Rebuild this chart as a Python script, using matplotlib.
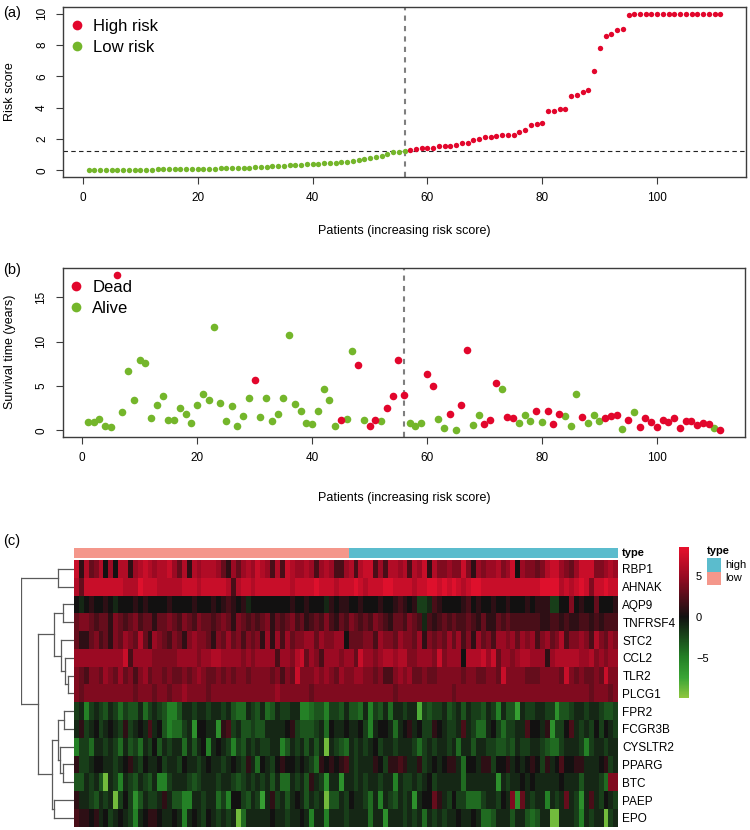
import numpy as np
import matplotlib
matplotlib.use('Agg')
import matplotlib.pyplot as plt
from matplotlib.colors import LinearSegmentedColormap, ListedColormap, Normalize
from matplotlib.lines import Line2D
from matplotlib.patches import Rectangle
from matplotlib.cm import ScalarMappable

plt.rcParams['font.family'] = ['Liberation Sans', 'DejaVu Sans']

# risk scores, sorted (patients 1..56 low risk, 57..111 high risk)
risk_low = [0.00, 0.01, 0.01, 0.02, 0.02, 0.03, 0.03, 0.03, 0.04, 0.04,
            0.05, 0.05, 0.06, 0.06, 0.07, 0.07, 0.08, 0.08, 0.09, 0.09,
            0.10, 0.11, 0.12, 0.13, 0.14, 0.15, 0.16, 0.17, 0.18, 0.20,
            0.23, 0.25, 0.27, 0.29, 0.31, 0.33, 0.35, 0.37, 0.39, 0.41,
            0.43, 0.45, 0.47, 0.49, 0.51, 0.53, 0.58, 0.66, 0.72, 0.77,
            0.83, 0.92, 1.02, 1.16, 1.18, 1.21]
risk_high = [1.33, 1.37, 1.41, 1.43, 1.43, 1.54, 1.56, 1.58, 1.61, 1.73,
             1.76, 1.91, 1.99, 2.14, 2.16, 2.18, 2.23, 2.27, 2.29, 2.46,
             2.59, 2.91, 2.98, 3.04, 3.77, 3.81, 3.92, 3.94, 4.75, 4.82,
             4.97, 5.12, 6.32, 7.79, 8.57, 8.67, 8.95, 9.04, 9.94, 10.0,
             10.0, 10.0, 10.0, 10.0, 10.0, 10.0, 10.0, 10.0, 10.0, 10.0,
             10.0, 10.0, 10.0, 10.0, 10.0]
risk_cutoff = 1.21

# survival time (years) and status, same patient order
survival_years = [0.94, 0.94, 1.28, 0.45, 0.38, 17.56, 2.07, 6.69, 3.46, 7.93,
                  7.59, 1.43, 2.89, 3.91, 1.13, 1.20, 2.48, 1.80, 0.83, 2.86,
                  4.10, 3.38, 11.62, 3.05, 1.02, 2.74, 0.53, 1.65, 3.68, 5.64,
                  1.50, 3.61, 1.09, 1.84, 3.61, 10.75, 3.01, 2.18, 0.79, 0.75,
                  2.18, 4.66, 3.38, 0.53, 1.20, 1.32, 8.95, 7.41, 1.17, 0.49,
                  1.20, 1.05, 2.56, 3.83, 7.93, 3.98, 0.79, 0.49, 0.79, 6.35,
                  5.04, 1.32, 0.26, 1.88, 0.08, 2.86, 9.06, 0.60, 1.69, 0.75,
                  1.17, 5.38, 4.62, 1.50, 1.43, 0.86, 1.69, 1.09, 2.14, 0.94,
                  2.22, 0.75, 1.84, 1.62, 0.49, 4.14, 1.54, 0.79, 1.69, 1.02,
                  1.35, 1.58, 1.77, 0.19, 1.17, 2.07, 0.41, 1.35, 0.90, 0.34,
                  1.13, 0.94, 1.43, 0.23, 1.09, 1.02, 0.56, 0.83, 0.71, 0.26,
                  0.00]
# 1 = dead, 0 = alive
status = [0, 0, 0, 0, 0, 1, 0, 0, 0, 0,
          0, 0, 0, 0, 0, 0, 0, 0, 0, 0,
          0, 0, 0, 0, 0, 0, 0, 0, 0, 1,
          0, 0, 0, 0, 0, 0, 0, 0, 0, 0,
          0, 0, 0, 0, 1, 0, 0, 1, 0, 1,
          1, 0, 1, 1, 1, 1, 0, 0, 0, 1,
          1, 0, 0, 1, 0, 1, 1, 0, 0, 1,
          1, 1, 0, 1, 1, 0, 0, 0, 1, 0,
          1, 1, 1, 0, 0, 0, 1, 0, 0, 0,
          1, 1, 1, 0, 1, 0, 1, 1, 1, 1,
          1, 1, 1, 1, 1, 1, 1, 1, 1, 0,
          1]

# heatmap genes (dendrogram order) and expression per patient
genes = ['RBP1', 'AHNAK', 'AQP9', 'TNFRSF4', 'STC2', 'CCL2', 'TLR2', 'PLCG1',
         'FPR2', 'FCGR3B', 'CYSLTR2', 'PPARG', 'BTC', 'PAEP', 'EPO']
expr_RBP1 = [7,1,6,3,4,6,0,5,0,6,6,1,5,6,7,6,5,6,6,7,5,3,6,1,6,5,6,6,6,5,3,1,5,3,5,6,5,
             7,6,5,2,6,2,7,6,5,5,6,5,2,5,6,5,2,2,5,6,2,6,7,7,2,5,2,6,6,5,6,2,6,5,7,1,6,
             4,4,5,4,4,7,4,1,5,4,5,5,6,4,5,7,0,5,4,4,3,4,6,7,7,5,4,3,5,7,7,7,4,4,5,6,5]
expr_AHNAK = [6,3,7,7,7,7,7,7,7,7,6,6,6,8,7,7,7,6,6,6,6,6,7,7,7,6,7,7,7,7,7,6,2,6,7,7,6,
              7,7,7,7,7,7,7,6,7,7,7,7,8,7,7,7,6,7,7,7,8,7,6,7,7,7,8,8,7,7,7,7,6,7,7,8,8,
              7,8,7,8,7,6,7,8,8,7,7,7,7,7,7,7,7,7,7,7,7,8,8,8,8,6,7,6,7,8,7,4,7,7,8,7,7]
expr_AQP9 = [0,-1,0,1,0,0,1,0,-1,0,0,0,1,0,1,0,0,0,0,1,0,0,0,0,1,0,0,0,1,0,1,2,1,0,1,-1,0,
             0,0,0,0,0,0,0,1,0,0,1,0,0,0,-1,1,0,1,1,0,0,1,0,0,0,1,0,0,1,2,1,0,1,-2,-2,-1,2,
             1,0,0,0,0,1,2,0,1,0,0,1,0,0,1,0,0,0,1,0,1,1,1,-2,-2,0,0,4,0,1,0,0,3,0,0,0,1]
expr_TNFRSF4 = [3,4,4,3,2,3,3,1,4,3,2,3,4,2,3,3,1,3,3,4,3,2,4,3,2,4,3,3,2,3,4,3,1,4,3,2,3,
                2,3,4,1,3,2,3,4,2,3,1,2,3,2,4,2,1,3,2,4,3,2,3,2,4,3,2,1,3,3,2,4,3,2,-1,2,1,
                2,3,2,3,2,2,3,2,1,3,1,1,3,2,3,2,2,2,2,2,2,1,1,2,2,1,2,1,1,2,2,1,2,1,2,2,2]
expr_STC2 = [3,1,1,3,4,2,3,1,4,3,5,4,3,6,3,1,5,4,3,2,4,3,1,4,5,4,4,3,1,4,3,5,3,4,2,4,3,
             4,1,5,1,5,2,5,3,4,4,5,5,3,5,4,4,5,5,0,3,3,3,4,4,2,5,4,4,3,5,4,4,3,5,1,4,3,
             4,3,5,3,5,2,4,1,5,3,4,2,5,5,4,5,3,5,4,5,2,4,5,3,4,6,2,4,4,5,4,2,6,4,3,5,4]
expr_CCL2 = [5,5,5,5,5,5,5,5,5,5,7,2,5,5,5,5,4,4,4,4,4,5,5,5,5,4,5,5,6,6,5,5,5,5,4,5,4,
             5,5,5,5,2,5,5,4,6,7,3,5,4,2,5,5,5,4,5,5,3,7,5,5,4,5,6,6,5,6,6,4,4,5,5,5,4,
             7,4,5,5,5,0,6,6,6,7,5,7,3,5,5,4,5,6,6,5,5,5,1,5,6,6,6,6,6,5,5,6,4,5,4,5,5]
expr_TLR2 = [4,3,2,4,4,3,5,4,3,5,3,4,2,4,5,3,4,4,3,4,3,3,4,3,4,5,4,3,3,4,3,4,3,4,4,3,4,
             4,4,4,3,4,2,4,3,7,4,4,4,5,4,5,4,3,5,4,4,5,5,4,4,3,4,2,2,4,5,4,5,3,3,4,3,3,
             4,4,4,4,4,3,4,4,3,3,4,4,3,7,4,4,4,4,3,3,3,4,4,4,4,3,7,4,3,4,3,3,4,3,7,4,4]
expr_PLCG1 = [4,3,4,4,4,4,4,4,4,4,4,4,3,4,4,4,3,4,4,3,4,4,5,4,4,4,4,3,4,4,4,4,4,4,4,4,4,
              4,4,4,4,5,4,4,4,4,4,4,3,4,4,4,4,4,4,4,4,4,4,4,4,4,4,4,4,3,4,4,4,4,4,4,4,4,
              4,4,4,3,4,4,4,4,4,4,4,4,4,4,4,4,4,4,4,4,4,4,4,4,4,4,4,4,4,4,4,3,4,4,4,3,4]
expr_FPR2 = [-2,-1,-5,-2,-1,-2,-3,-1,-2,-4,-2,-3,-3,-1,-4,-2,-1,-2,-3,-5,-5,-3,-1,-1,-2,-1,-1,-2,-1,-1,-2,-1,-3,-4,-4,-1,-2,
             -3,-1,-4,-3,-1,-2,-2,-1,-1,-5,-5,-4,-3,-3,-5,-2,-2,-3,-1,-3,-3,-4,-1,-5,-2,-3,-1,-4,-1,-1,-2,-1,-1,-8,-2,-3,-2,
             -2,-1,-3,-2,-1,-3,-1,-2,-2,-3,-1,-2,-5,-1,-3,-3,-7,-1,-2,-2,-1,-1,-2,-2,-6,-3,-3,-2,-1,-1,-2,-1,-1,-2,-3,-3,-2]
expr_FCGR3B = [-1,1,-2,-1,0,-2,-1,0,-1,-2,1,-2,-1,0,-1,2,-1,0,-3,-5,-4,-4,-2,-1,-6,0,0,-1,-1,-6,1,2,-2,-1,-3,-3,-2,
               -3,-3,-1,-1,-1,-1,0,1,-2,-3,-3,-3,-2,-1,-4,0,-1,-1,0,-1,-1,0,-2,-5,-1,0,0,-1,-4,-1,0,1,-1,0,-2,-2,1,
               0,-1,-2,-2,-1,2,-1,-2,-4,-4,-1,0,-2,-4,-2,-2,-1,-1,2,0,0,-1,1,-6,-2,-2,0,2,-1,-2,-1,-2,0,-2,0,-1,-2]
expr_CYSLTR2 = [-5,-2,-2,-4,-1,-1,-2,-1,-2,-4,-1,-3,-2,-4,-1,-2,0,-3,-1,-2,-1,-1,-4,-1,-3,-1,0,-5,-1,0,-1,-2,-5,-2,-3,-1,-2,
                -1,-2,-2,-1,-1,-5,-3,-1,-2,-1,-3,-1,-3,-1,-9,-1,-2,-3,-4,-1,-2,-1,-2,-1,0,-2,-1,-1,-2,-1,-1,-1,-2,-4,-2,-1,-2,
                -1,-1,-2,-1,-4,-1,-1,-3,-1,-1,-2,-2,-3,-3,-2,-3,-1,-2,-2,-1,-1,-2,-3,-4,-4,-2,-1,-1,-1,-2,-5,-2,-1,-1,-2,-1,-1]
expr_PPARG = [1,-2,-2,-1,0,0,-1,-1,-2,-1,0,1,-1,-2,0,-1,-1,0,-2,-1,-1,-2,0,-1,-1,-2,-1,0,-1,-1,-2,-1,0,-1,-2,1,-1,
              -4,0,-1,-2,0,1,0,0,-1,0,-1,-2,-4,1,0,1,0,1,2,-1,-2,-1,-1,-1,1,0,-2,1,1,2,1,-1,-1,1,-2,-1,0,
              -1,0,1,1,-1,-4,0,0,-1,1,1,-2,0,0,1,-1,0,-1,0,1,0,-2,1,-1,0,2,0,0,1,1,-1,-1,-1,0,1,-2,-1]
expr_BTC = [-3,-3,-1,-2,-1,-3,-9,-1,-2,-5,-1,-2,-3,-1,-2,-3,-1,-5,-5,-2,-1,-1,-1,-2,-3,-2,-1,-1,-1,-2,-1,-1,-2,-3,-2,-1,-2,
            -1,-2,-1,-3,-1,-4,-4,-1,-2,-1,-3,1,-1,-2,-6,-1,-1,-6,-1,-1,-2,-1,-2,-1,-1,-2,-1,-1,-5,-1,-2,-2,-1,-2,-1,0,-2,
            -1,-1,-1,-1,-1,-4,-1,-1,-1,-1,-1,-1,-6,-1,-2,-1,-1,0,-1,0,-1,-1,-1,-1,-1,0,-1,-1,-1,-3,-1,-1,-1,-2,-4,4,4]
expr_PAEP = [1,-1,-1,-2,-3,-1,-2,-1,-9,-2,0,-2,-6,-3,-1,-2,-2,-1,1,-1,-3,-3,-5,-5,-1,-1,-2,-1,-1,-4,-2,-5,0,0,-2,-3,-1,
             -2,-7,-1,1,-2,-1,-3,-1,0,-1,-3,-1,-2,-1,-9,-3,-3,-1,-2,0,-1,-1,-2,-4,-1,-5,-1,-2,-3,-1,-2,-1,-6,-1,0,0,3,
             1,-1,-2,0,-2,-2,-4,-4,-4,-2,-1,-1,-2,0,-1,4,-6,3,-1,-2,-1,-1,-5,-1,-2,-1,3,-1,-2,-6,-1,2,-1,-2,0,-1,-2]
expr_EPO = [2,1,1,0,1,-1,0,-2,-1,0,-1,-2,-5,-1,0,1,1,0,-1,-1,0,-1,-5,-1,0,-1,-2,0,-1,-2,-1,-2,-1,-9,-4,-1,-1,
            -1,-1,-1,0,-1,-1,-2,-1,-1,0,-1,-5,-1,-1,-5,-1,-1,-1,-2,-1,-1,-1,-1,-4,-1,-1,-6,-1,-1,-1,-2,-1,-2,-1,-4,-1,-2,
            -1,-2,-1,-1,0,-1,-1,0,-1,-4,-4,-3,-1,-1,-1,-3,-1,-1,-3,-4,-3,-1,-1,-9,-9,-1,-1,-1,-2,-5,-1,-2,-1,-1,-9,-2,-1]

# row dendrogram: (left, right, height); leaves 0..14, new clusters from 15
row_merges = [(0, 1, 0.30), (2, 3, 0.20), (6, 7, 0.11), (5, 17, 0.17),
              (4, 18, 0.25), (16, 19, 0.37), (8, 9, 0.18), (11, 12, 0.21),
              (10, 22, 0.26), (21, 23, 0.31), (13, 14, 0.37), (24, 25, 0.42),
              (20, 26, 0.67), (15, 27, 1.00)]

red = '#e2062c'
green = '#74b62b'
box_col = '#3c3c3c'

W, H = 750, 830
fig = plt.figure(figsize=(W / 100, H / 100), dpi=100)


def px_axes(left, top, right, bottom):
    return fig.add_axes([left / W, 1 - bottom / H, (right - left) / W, (bottom - top) / H])


def r_style(ax):
    for s in ax.spines.values():
        s.set_color(box_col)
        s.set_linewidth(1.0)
    ax.tick_params(direction='out', length=5, width=0.8, color=box_col,
                   labelsize=8.5, pad=6)
    plt.setp(ax.get_yticklabels(), rotation=90, va='center')


def r_lim(vals):
    lo, hi = min(vals), max(vals)
    pad = 0.04 * (hi - lo)
    return lo - pad, hi + pad


def r_legend(ax, labels):
    h = [Line2D([], [], ls='', marker='o', ms=7, mec='none', mfc=red),
         Line2D([], [], ls='', marker='o', ms=7, mec='none', mfc=green)]
    ax.legend(h, labels, loc='upper left', bbox_to_anchor=(2 / 682, 1 - 8 / 169),
              frameon=False, fontsize=12, handletextpad=0.45, labelspacing=0.36,
              borderaxespad=0, borderpad=0.2, handlelength=1.0)


n_low = len(risk_low)
risk = risk_low + risk_high
patients = np.arange(1, len(risk) + 1)

# (a) risk score
ax1 = px_axes(63.3, 7.3, 745.7, 176.7)
ax1.scatter(patients[:n_low], risk_low, s=15, color=green, lw=0, zorder=3)
ax1.scatter(patients[n_low:], risk_high, s=15, color=red, lw=0, zorder=3)
ax1.axhline(risk_cutoff, color='#222222', lw=0.8, ls=(0, (4, 3)))
ax1.axvline(n_low, color='#7f7f7f', lw=1.5, ls=(0, (2.5, 2.5)))
ax1.set_xlim(r_lim(patients))
ax1.set_ylim(r_lim(risk))
ax1.set_xticks([0, 20, 40, 60, 80, 100])
ax1.set_yticks([0, 2, 4, 6, 8, 10])
r_style(ax1)
r_legend(ax1, ['High risk', 'Low risk'])

# (b) survival status
ax2 = px_axes(62.7, 268.3, 745.3, 436.7)
surv = np.array(survival_years)
dead = np.array(status) == 1
ax2.scatter(patients[~dead], surv[~dead], s=30, color=green, lw=0, zorder=3)
ax2.scatter(patients[dead], surv[dead], s=30, color=red, lw=0, zorder=3)
ax2.axvline(n_low, color='#7f7f7f', lw=1.5, ls=(0, (2.5, 2.5)))
ax2.set_xlim(r_lim(patients))
ax2.set_ylim(r_lim(survival_years))
ax2.set_xticks([0, 20, 40, 60, 80, 100])
ax2.set_yticks([0, 5, 10, 15])
r_style(ax2)
r_legend(ax2, ['Dead', 'Alive'])

# axis titles and panel letters
fig.text(404 / W, 1 - 231 / H, 'Patients (increasing risk score)', ha='center', va='center', fontsize=9)
fig.text(404 / W, 1 - 498 / H, 'Patients (increasing risk score)', ha='center', va='center', fontsize=9)
fig.text(10 / W, 1 - 92 / H, 'Risk score', rotation=90, ha='center', va='center', fontsize=9)
fig.text(10 / W, 1 - 352 / H, 'Survival time (years)', rotation=90, ha='center', va='center', fontsize=9)
fig.text(3 / W, 1 - 13 / H, '(a)', ha='left', va='center', fontsize=10.5)
fig.text(3 / W, 1 - 270 / H, '(b)', ha='left', va='center', fontsize=10.5)
fig.text(3 / W, 1 - 541 / H, '(c)', ha='left', va='center', fontsize=10.5)

# (c) heatmap
mat = np.array([expr_RBP1, expr_AHNAK, expr_AQP9, expr_TNFRSF4, expr_STC2,
                expr_CCL2, expr_TLR2, expr_PLCG1, expr_FPR2, expr_FCGR3B,
                expr_CYSLTR2, expr_PPARG, expr_BTC, expr_PAEP, expr_EPO], dtype=float)
vmin, vmax = -9.8, 8.5
hm_cmap = LinearSegmentedColormap.from_list('gbr', [
    (0.0, '#8ec63f'), (0.13, '#3aa535'), (0.27, '#237f25'),
    (0.535, '#111111'), (0.80, '#960a22'), (1.0, '#e8112d')])
norm = Normalize(vmin, vmax)

ax_hm = px_axes(74, 560, 618.3, 826.7)
ax_hm.pcolormesh(np.arange(mat.shape[1] + 1), np.arange(mat.shape[0] + 1), mat,
                 cmap=hm_cmap, norm=norm, edgecolors='none')
ax_hm.set_xlim(0, mat.shape[1])
ax_hm.set_ylim(mat.shape[0], 0)
ax_hm.set_xticks([])
ax_hm.yaxis.tick_right()
ax_hm.set_yticks(np.arange(len(genes)) + 0.5)
ax_hm.set_yticklabels(genes, fontsize=8.5)
ax_hm.tick_params(axis='y', length=0, pad=3)
for s in ax_hm.spines.values():
    s.set_visible(False)

# annotation bar (low / high risk)
group = np.array([0 if i < n_low else 1 for i in range(len(risk))])
ax_ann = px_axes(74, 547.7, 618.3, 557.7)
ax_ann.pcolormesh(np.arange(len(group) + 1), [0, 1], group[None, :],
                  cmap=ListedColormap(['#f4978b', '#5bbccd']), vmin=0, vmax=1)
ax_ann.set_xlim(0, len(group))
ax_ann.set_xticks([])
ax_ann.set_yticks([])
for s in ax_ann.spines.values():
    s.set_visible(False)
ax_ann.text(1.006, 0.45, 'type', transform=ax_ann.transAxes, ha='left', va='center',
            fontsize=8, fontweight='bold')

# row dendrogram
ax_den = px_axes(21, 560, 74, 826.7)
pos = {i: i + 0.5 for i in range(len(genes))}
hgt = {i: 0.0 for i in range(len(genes))}
for k, (a, b, hh) in enumerate(row_merges):
    node = len(genes) + k
    for c in (a, b):
        ax_den.plot([hgt[c], hh], [pos[c], pos[c]], color='#5a5a5a', lw=0.9)
    ax_den.plot([hh, hh], [pos[a], pos[b]], color='#5a5a5a', lw=0.9)
    pos[node] = (pos[a] + pos[b]) / 2
    hgt[node] = hh
ax_den.set_xlim(1.0, 0.0)
ax_den.set_ylim(len(genes), 0)
ax_den.axis('off')

# colour key
ax_cb = px_axes(679, 546.7, 689, 697.7)
cb = fig.colorbar(ScalarMappable(norm=norm, cmap=hm_cmap), cax=ax_cb, ticks=[-5, 0, 5])
cb.outline.set_visible(False)
ax_cb.tick_params(length=0, labelsize=8, pad=5)

# type legend
fig.text(707 / W, 1 - 551 / H, 'type', ha='left', va='center', fontsize=8, fontweight='bold')
for y0, col, lab in [(558.3, '#5bbccd', 'high'), (571.7, '#f4978b', 'low')]:
    fig.add_artist(Rectangle((707 / W, 1 - (y0 + 13.4) / H), 14 / W, 13.4 / H,
                             transform=fig.transFigure, facecolor=col, edgecolor='none'))
    fig.text(725 / W, 1 - (y0 + 6.7) / H, lab, ha='left', va='center', fontsize=8)

plt.savefig('out.png', dpi=100)
